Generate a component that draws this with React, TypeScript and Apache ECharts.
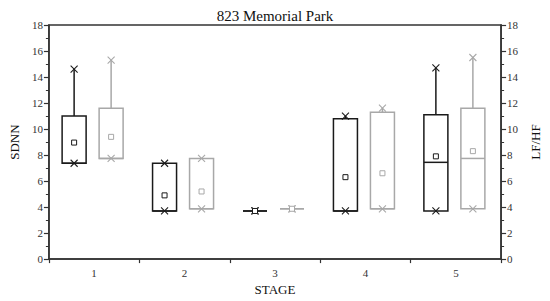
import React, { useEffect, useRef } from "react";
import * as echarts from "echarts";

const stages = ["1", "2", "3", "4", "5"];
// SDNN (black, left axis)
const sdnnMin = [7.37, 3.7, 3.7, 3.7, 3.7];
const sdnnQ1 = [7.37, 3.7, 3.7, 3.7, 3.7];
const sdnnMedian = [7.37, 3.7, 3.7, 3.7, 7.44];
const sdnnQ3 = [11.0, 7.37, 3.7, 10.8, 11.1];
const sdnnMax = [14.6, 7.37, 3.7, 11.0, 14.7];
const sdnnMean = [8.96, 4.9, 3.7, 6.3, 7.9];
// LF/HF (gray, right axis)
const lfhfMin = [7.74, 3.87, 3.87, 3.87, 3.87];
const lfhfQ1 = [7.74, 3.87, 3.87, 3.87, 3.87];
const lfhfMedian = [7.74, 3.87, 3.87, 3.87, 7.74];
const lfhfQ3 = [11.6, 7.74, 3.87, 11.3, 11.6];
const lfhfMax = [15.3, 7.74, 3.87, 11.6, 15.5];
const lfhfMean = [9.4, 5.2, 3.87, 6.6, 8.3];
const yTicks = { min: 0, max: 18, interval: 2 };

const FONT = "Liberation Serif";

function buildRows(mn: number[], q1: number[], md: number[], q3: number[], mx: number[], mean: number[]) {
  return stages.map((_, i) => [i, mn[i], q1[i], md[i], q3[i], mx[i], mean[i]]);
}

function makeRender(offset: number, color: string) {
  return (params: any, api: any) => {
    const idx = api.value(0);
    const cx = api.coord([idx, 0])[0] + offset;
    const y = (k: number) => api.coord([idx, api.value(k)])[1];
    const yMin = y(1), yQ1 = y(2), yMed = y(3), yQ3 = y(4), yMax = y(5), yMean = y(6);
    const hw = 12;
    const lw = 1.5;
    const s = 3.5;
    const line = (x1: number, y1: number, x2: number, y2: number, w = lw) => ({
      type: "line",
      shape: { x1, y1, x2, y2 },
      style: { stroke: color, lineWidth: w, fill: null },
    });
    const cross = (yy: number) => [
      line(cx - s, yy - s, cx + s, yy + s, 1.1),
      line(cx - s, yy + s, cx + s, yy - s, 1.1),
    ];
    const children: any[] = [
      line(cx, yQ3, cx, yMax),
      line(cx, yQ1, cx, yMin),
      {
        type: "rect",
        shape: { x: cx - hw, y: yQ3, width: hw * 2, height: Math.max(yQ1 - yQ3, 0) },
        style: { stroke: color, lineWidth: lw, fill: "none" },
      },
      line(cx - hw, yMed, cx + hw, yMed),
      ...cross(yMax),
      ...cross(yMin),
      {
        type: "rect",
        shape: { x: cx - 2.5, y: yMean - 2.5, width: 5, height: 5 },
        style: { stroke: color, lineWidth: 1, fill: "#fff" },
      },
    ];
    return { type: "group", children };
  };
}

export default function App() {
  const ref = useRef<HTMLDivElement>(null);
  useEffect(() => {
    if (!ref.current) return;
    const chart = echarts.init(ref.current, undefined, { renderer: "svg" });
    const axisCommon = {
      type: "value",
      min: yTicks.min,
      max: yTicks.max,
      interval: yTicks.interval,
      nameLocation: "middle",
      nameRotate: 90,
      nameTextStyle: { fontFamily: FONT, fontSize: 13, color: "#111" },
      axisLine: { show: true, lineStyle: { color: "#333", width: 1.5 } },
      axisTick: { show: true, inside: false, length: 5, lineStyle: { color: "#333", width: 1.2 } },
      minorTick: { show: true, splitNumber: 2, length: 3, lineStyle: { color: "#333", width: 1 } },
      splitLine: { show: false },
      minorSplitLine: { show: false },
      axisLabel: { fontFamily: FONT, fontSize: 11, color: "#333", margin: 6 },
    };
    chart.setOption({
      animation: false,
      backgroundColor: "#fff",
      title: {
        text: "823 Memorial Park",
        left: "center",
        top: 3,
        textStyle: { fontFamily: FONT, fontSize: 15, fontWeight: "normal", color: "#111" },
      },
      grid: {
        left: 44,
        right: 43,
        top: 25,
        bottom: 39,
        show: true,
        borderColor: "#333",
        borderWidth: 1.5,
        backgroundColor: "transparent",
      },
      xAxis: {
        type: "category",
        data: stages,
        boundaryGap: true,
        name: "STAGE",
        nameLocation: "middle",
        nameGap: 22,
        nameTextStyle: { fontFamily: FONT, fontSize: 13, color: "#111" },
        axisLine: { show: true, lineStyle: { color: "#333", width: 1.5 } },
        axisTick: { show: true, inside: false, length: 4, alignWithLabel: false, lineStyle: { color: "#333", width: 1.2 } },
        axisLabel: { fontFamily: FONT, fontSize: 11, color: "#333", margin: 8 },
        splitLine: { show: false },
      },
      yAxis: [
        { ...axisCommon, position: "left", name: "SDNN", nameGap: 26 },
        { ...axisCommon, position: "right", name: "LF/HF", nameGap: 26 },
      ],
      series: [
        {
          type: "custom",
          name: "SDNN",
          yAxisIndex: 0,
          renderItem: makeRender(-20, "#1a1a1a"),
          encode: { x: 0, y: [1, 2, 3, 4, 5, 6] },
          data: buildRows(sdnnMin, sdnnQ1, sdnnMedian, sdnnQ3, sdnnMax, sdnnMean),
          z: 3,
        },
        {
          type: "custom",
          name: "LF/HF",
          yAxisIndex: 1,
          renderItem: makeRender(17, "#a8a8a8"),
          encode: { x: 0, y: [1, 2, 3, 4, 5, 6] },
          data: buildRows(lfhfMin, lfhfQ1, lfhfMedian, lfhfQ3, lfhfMax, lfhfMean),
          z: 2,
        },
      ],
    });
    return () => chart.dispose();
  }, []);
  return <div ref={ref} style={{ width: 550, height: 301, position: "absolute", left: 0, top: 0 }} />;
}
